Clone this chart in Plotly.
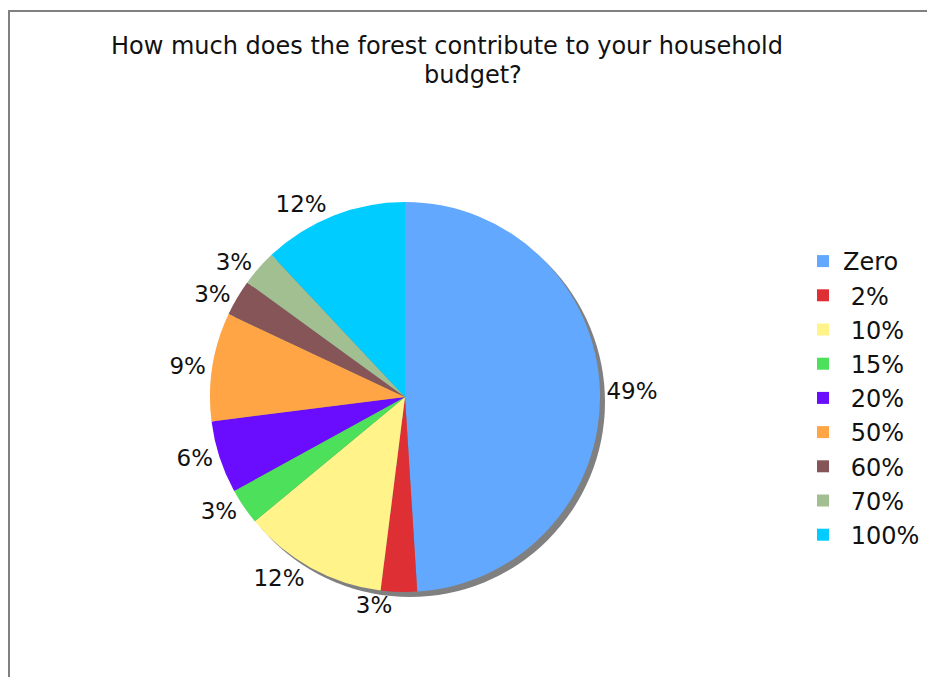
import plotly.graph_objects as go

categories = ["Zero", "2%", "10%", "15%", "20%", "50%", "60%", "70%", "100%"]
shares = [49, 3, 12, 3, 6, 9, 3, 3, 12]
colors = ["#62A8FF", "#DE3034", "#FFF38A", "#4DE05A", "#6A0DFF",
          "#FFA545", "#855558", "#A2BF92", "#00CCFF"]
title_line1 = "How much does the forest contribute to your household"
title_line2 = "budget?"

W, H = 935, 677
FONT = "DejaVu Sans"
FS = 23
OFF = 8  # page body margin

# pie geometry in page pixels
cx, cy, r = 405 - OFF, 397 - OFF, 195
sx, sy = 5, 5  # shadow offset


def dom(cx, cy, r):
    return dict(x=[(cx - r) / W, (cx + r) / W],
                y=[1 - (cy + r) / H, 1 - (cy - r) / H])


legend_labels = [c if c == "Zero" else "\u00a0" + c for c in categories]

fig = go.Figure()

# shadow
fig.add_trace(go.Pie(values=[1], labels=["shadow"], marker=dict(colors=["#808080"]),
                     textinfo="none", hoverinfo="skip", showlegend=False,
                     domain=dom(cx + sx, cy + sy, r), sort=False))

fig.add_trace(go.Pie(
    labels=legend_labels, values=shares, sort=False, direction="clockwise", rotation=0,
    marker=dict(colors=colors, line=dict(width=0)),
    texttemplate="%{value}%", textposition="outside",
    outsidetextfont=dict(family=FONT, size=FS, color="#111111"),
    domain=dom(cx, cy, r), showlegend=True,
))

fig.add_annotation(text=title_line1, x=(447 - OFF) / W, y=1 - (46 - OFF) / H,
                   xref="paper", yref="paper",
                   showarrow=False, xanchor="center", yanchor="middle",
                   font=dict(family=FONT, size=24, color="#111111"))
fig.add_annotation(text=title_line2, x=(473 - OFF) / W, y=1 - (75 - OFF) / H,
                   xref="paper", yref="paper",
                   showarrow=False, xanchor="center", yanchor="middle",
                   font=dict(family=FONT, size=24, color="#111111"))

fig.add_shape(type="rect", xref="paper", yref="paper",
              x0=1 / W, y0=-0.05, x1=1.05, y1=1 - 3 / H,
              line=dict(color="#808080", width=2))

fig.update_layout(
    width=W, height=H, margin=dict(l=0, r=0, t=0, b=0),
    paper_bgcolor="white", plot_bgcolor="white",
    font=dict(family=FONT, size=FS, color="#111111"),
    legend=dict(x=795 / W, y=1 - 231 / H, xanchor="left", yanchor="top",
                font=dict(family=FONT, size=24, color="#111111"),
                bgcolor="rgba(0,0,0,0)"),
)

fig.write_html("out.html")
